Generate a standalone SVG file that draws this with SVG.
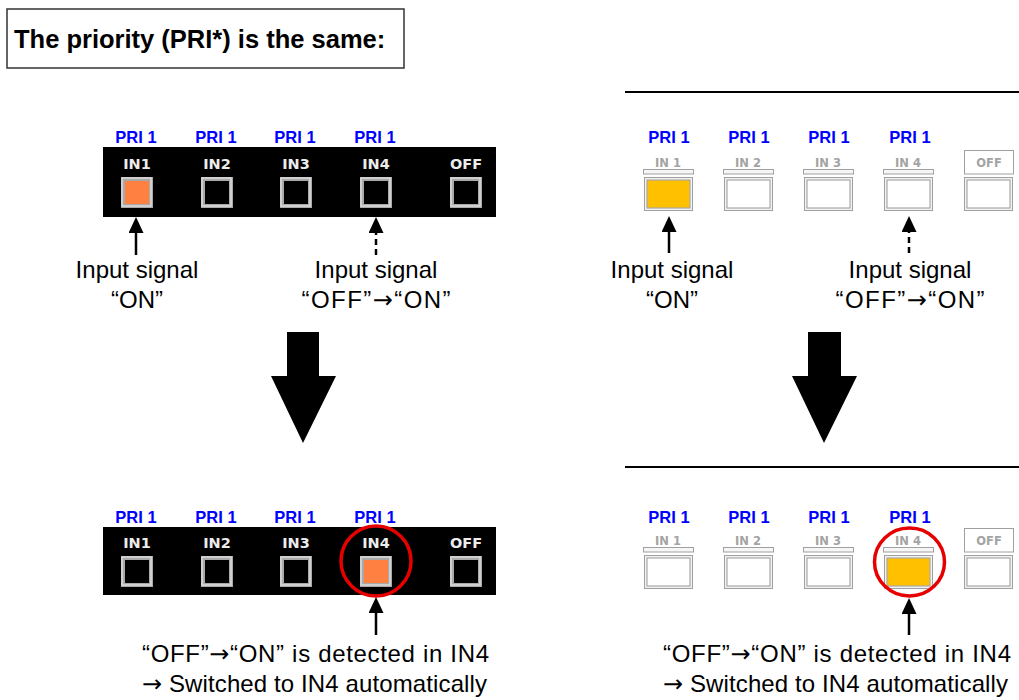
<svg xmlns="http://www.w3.org/2000/svg" width="1019" height="700" viewBox="0 0 1019 700">
<style>
.title{font-family:"Liberation Sans",Arial,sans-serif;font-weight:bold;font-size:25.5px;fill:#000}
.pri{font-family:"Liberation Sans",Arial,sans-serif;font-weight:bold;font-size:16.5px;fill:#0000ff;text-anchor:middle}
.inl{font-family:"DejaVu Sans",sans-serif;font-weight:bold;font-size:14.5px;fill:#ececec;text-anchor:middle}
.inr{font-family:"DejaVu Sans",sans-serif;font-weight:bold;font-size:11.5px;fill:#a3a3a3;text-anchor:middle}
.lbl{font-family:"Liberation Sans",Arial,sans-serif;font-size:24px;fill:#000;text-anchor:middle}
.lbs{font-family:"Liberation Sans",Arial,sans-serif;font-size:24px;fill:#000}
.cj{font-family:"DejaVu Sans","Liberation Sans",sans-serif}
.bo{fill:#a9a9a9}
.bh{fill:none;stroke:#dcdcdc;stroke-width:1.5}
.bk{fill:#000}
.or{fill:#ff8040}
.ro{fill:#f2f2f2;stroke:#a0a0a0;stroke-width:1}
.ob{fill:#fff;stroke:#a0a0a0;stroke-width:1}
.ri{fill:#fff;stroke:#a8a8a8;stroke-width:1.2}
.ye{fill:#ffc000;stroke:#a8a8a8;stroke-width:1.2}
.bar{fill:#f6f6f6;stroke:#a0a0a0;stroke-width:1}
.ar{stroke:#000;stroke-width:2.5;fill:none;marker-end:url(#ah)}
.da{stroke-dasharray:6 4}
.big{fill:#000}
.ring{fill:none;stroke:#e60000;stroke-width:3.5}
.rule{stroke:#000;stroke-width:2}
</style>
<defs>
<marker id="ah" viewBox="0 0 16 15" refX="0" refY="7.5" markerWidth="16" markerHeight="15" markerUnits="userSpaceOnUse" orient="auto">
<path d="M0,0 L16,7.5 L0,15 z" fill="#000"/>
</marker>
</defs>
<rect width="1019" height="700" fill="#fff"/>

<g id="title">
<rect x="7" y="9" width="397" height="59" fill="#fff" stroke="#333" stroke-width="1.5"/>
<text class="title" x="14" y="48">The priority (PRI*) is the same:</text>
</g>

<g id="rules">
<line class="rule" x1="625" y1="92" x2="1019" y2="92"/>
<line class="rule" x1="625" y1="467" x2="1019" y2="467"/>
</g>

<g id="panel-top-left">
<text class="pri" x="136" y="143">PRI 1</text>
<text class="pri" x="216" y="143">PRI 1</text>
<text class="pri" x="295" y="143">PRI 1</text>
<text class="pri" x="375" y="143">PRI 1</text>
<rect x="103" y="147" width="393" height="70" fill="#000"/>
<text class="inl" x="137" y="169">IN1</text>
<text class="inl" x="217" y="169">IN2</text>
<text class="inl" x="296" y="169">IN3</text>
<text class="inl" x="376" y="169">IN4</text>
<text class="inl" x="466" y="169">OFF</text>
<g id="tl-in1"><rect class="bo" x="121" y="177" width="32" height="31"/><rect class="bh" x="122" y="178" width="29" height="28"/><rect class="or" x="125" y="181" width="24" height="23"/></g>
<g id="tl-in2"><rect class="bo" x="201" y="177" width="32" height="31"/><rect class="bh" x="202" y="178" width="29" height="28"/><rect class="bk" x="205" y="181" width="24" height="23"/></g>
<g id="tl-in3"><rect class="bo" x="280" y="177" width="32" height="31"/><rect class="bh" x="281" y="178" width="29" height="28"/><rect class="bk" x="284" y="181" width="24" height="23"/></g>
<g id="tl-in4"><rect class="bo" x="360" y="177" width="32" height="31"/><rect class="bh" x="361" y="178" width="29" height="28"/><rect class="bk" x="364" y="181" width="24" height="23"/></g>
<g id="tl-off"><rect class="bo" x="450" y="177" width="32" height="31"/><rect class="bh" x="451" y="178" width="29" height="28"/><rect class="bk" x="454" y="181" width="24" height="23"/></g>
</g>

<g id="panel-top-right">
<text class="pri" x="669" y="143">PRI 1</text>
<text class="pri" x="749" y="143">PRI 1</text>
<text class="pri" x="829" y="143">PRI 1</text>
<text class="pri" x="910" y="143">PRI 1</text>
<text class="inr" x="668" y="167">IN 1</text>
<text class="inr" x="748" y="167">IN 2</text>
<text class="inr" x="828" y="167">IN 3</text>
<text class="inr" x="908" y="167">IN 4</text>
<rect class="bar" x="643.5" y="169.5" width="50" height="4.5"/>
<rect class="bar" x="723.5" y="169.5" width="50" height="4.5"/>
<rect class="bar" x="803.5" y="169.5" width="50" height="4.5"/>
<rect class="bar" x="883.5" y="169.5" width="50" height="4.5"/>
<rect class="ob" x="964.5" y="150.5" width="49" height="23.5"/>
<text class="inr" x="989" y="167">OFF</text>
<g id="tr-in1"><rect class="ro" x="644.5" y="177.5" width="48" height="33"/><rect class="ye" x="647" y="180" width="43" height="28"/></g>
<g id="tr-in2"><rect class="ro" x="724.5" y="177.5" width="48" height="33"/><rect class="ri" x="727" y="180" width="43" height="28"/></g>
<g id="tr-in3"><rect class="ro" x="804.5" y="177.5" width="48" height="33"/><rect class="ri" x="807" y="180" width="43" height="28"/></g>
<g id="tr-in4"><rect class="ro" x="884.5" y="177.5" width="48" height="33"/><rect class="ri" x="887" y="180" width="43" height="28"/></g>
<g id="tr-off"><rect class="ro" x="964.5" y="177.5" width="48" height="33"/><rect class="ri" x="967" y="180" width="43" height="28"/></g>
</g>

<g id="panel-bottom-left">
<text class="pri" x="136" y="523">PRI 1</text>
<text class="pri" x="216" y="523">PRI 1</text>
<text class="pri" x="295" y="523">PRI 1</text>
<text class="pri" x="375" y="523">PRI 1</text>
<rect x="103" y="527" width="393" height="68" fill="#000"/>
<text class="inl" x="137" y="548">IN1</text>
<text class="inl" x="217" y="548">IN2</text>
<text class="inl" x="296" y="548">IN3</text>
<text class="inl" x="376" y="548">IN4</text>
<text class="inl" x="466" y="548">OFF</text>
<g id="bl-in1"><rect class="bo" x="121" y="556" width="32" height="31"/><rect class="bh" x="122" y="557" width="29" height="28"/><rect class="bk" x="125" y="560" width="24" height="23"/></g>
<g id="bl-in2"><rect class="bo" x="201" y="556" width="32" height="31"/><rect class="bh" x="202" y="557" width="29" height="28"/><rect class="bk" x="205" y="560" width="24" height="23"/></g>
<g id="bl-in3"><rect class="bo" x="280" y="556" width="32" height="31"/><rect class="bh" x="281" y="557" width="29" height="28"/><rect class="bk" x="284" y="560" width="24" height="23"/></g>
<g id="bl-in4"><rect class="bo" x="360" y="556" width="32" height="31"/><rect class="bh" x="361" y="557" width="29" height="28"/><rect class="or" x="364" y="560" width="24" height="23"/></g>
<g id="bl-off"><rect class="bo" x="450" y="556" width="32" height="31"/><rect class="bh" x="451" y="557" width="29" height="28"/><rect class="bk" x="454" y="560" width="24" height="23"/></g>
<circle id="bl-ring" class="ring" cx="376" cy="561" r="35"/>
</g>

<g id="panel-bottom-right">
<text class="pri" x="669" y="523">PRI 1</text>
<text class="pri" x="749" y="523">PRI 1</text>
<text class="pri" x="829" y="523">PRI 1</text>
<text class="pri" x="910" y="523">PRI 1</text>
<text class="inr" x="668" y="545">IN 1</text>
<text class="inr" x="748" y="545">IN 2</text>
<text class="inr" x="828" y="545">IN 3</text>
<text class="inr" x="908" y="545">IN 4</text>
<rect class="bar" x="643.5" y="547.5" width="50" height="4.5"/>
<rect class="bar" x="723.5" y="547.5" width="50" height="4.5"/>
<rect class="bar" x="803.5" y="547.5" width="50" height="4.5"/>
<rect class="bar" x="883.5" y="547.5" width="50" height="4.5"/>
<rect class="ob" x="964.5" y="528.5" width="49" height="23.5"/>
<text class="inr" x="989" y="545">OFF</text>
<g id="br-in1"><rect class="ro" x="644.5" y="555.5" width="48" height="33"/><rect class="ri" x="647" y="558" width="43" height="28"/></g>
<g id="br-in2"><rect class="ro" x="724.5" y="555.5" width="48" height="33"/><rect class="ri" x="727" y="558" width="43" height="28"/></g>
<g id="br-in3"><rect class="ro" x="804.5" y="555.5" width="48" height="33"/><rect class="ri" x="807" y="558" width="43" height="28"/></g>
<g id="br-in4"><rect class="ro" x="884.5" y="555.5" width="48" height="33"/><rect class="ye" x="887" y="558" width="43" height="28"/></g>
<g id="br-off"><rect class="ro" x="964.5" y="555.5" width="48" height="33"/><rect class="ri" x="967" y="558" width="43" height="28"/></g>
<ellipse id="br-ring" class="ring" cx="909.5" cy="562" rx="35" ry="34"/>
</g>

<g id="labels">
<text class="lbl" x="137" y="278">Input signal</text>
<text class="lbl" x="137" y="308">“ON”</text>
<text class="lbl" x="376" y="278">Input signal</text>
<text class="lbl" x="376" y="308" textLength="149" lengthAdjust="spacing">“OFF”<tspan class="cj">→</tspan>“ON”</text>
<text class="lbl" x="672" y="278">Input signal</text>
<text class="lbl" x="672" y="308">“ON”</text>
<text class="lbl" x="910" y="278">Input signal</text>
<text class="lbl" x="910" y="308" textLength="149" lengthAdjust="spacing">“OFF”<tspan class="cj">→</tspan>“ON”</text>
<text class="lbs" x="142" y="662" textLength="347" lengthAdjust="spacing">“OFF”<tspan class="cj">→</tspan>“ON” is detected in IN4</text>
<text class="lbs" x="142" y="692" textLength="345" lengthAdjust="spacing"><tspan class="cj">→</tspan> Switched to IN4 automatically</text>
<text class="lbs" x="663" y="662" textLength="348" lengthAdjust="spacing">“OFF”<tspan class="cj">→</tspan>“ON” is detected in IN4</text>
<text class="lbs" x="663" y="692" textLength="345" lengthAdjust="spacing"><tspan class="cj">→</tspan> Switched to IN4 automatically</text>
</g>

<g id="connectors">
<line class="ar" x1="136" y1="255" x2="136" y2="233"/>
<line class="ar da" x1="376" y1="255" x2="376" y2="233"/>
<line class="ar" x1="669" y1="253" x2="669" y2="232"/>
<line class="ar da" x1="909" y1="253" x2="909" y2="232"/>
<line class="ar" x1="376" y1="635" x2="376" y2="613"/>
<line class="ar" x1="909" y1="635" x2="909" y2="614"/>
<polygon class="big" points="287,332 319,332 319,376 336,376 303,443 271,376 287,376"/>
<polygon class="big" points="808,332 841,332 841,376 857,376 824,443 792,376 808,376"/>
</g>
</svg>
